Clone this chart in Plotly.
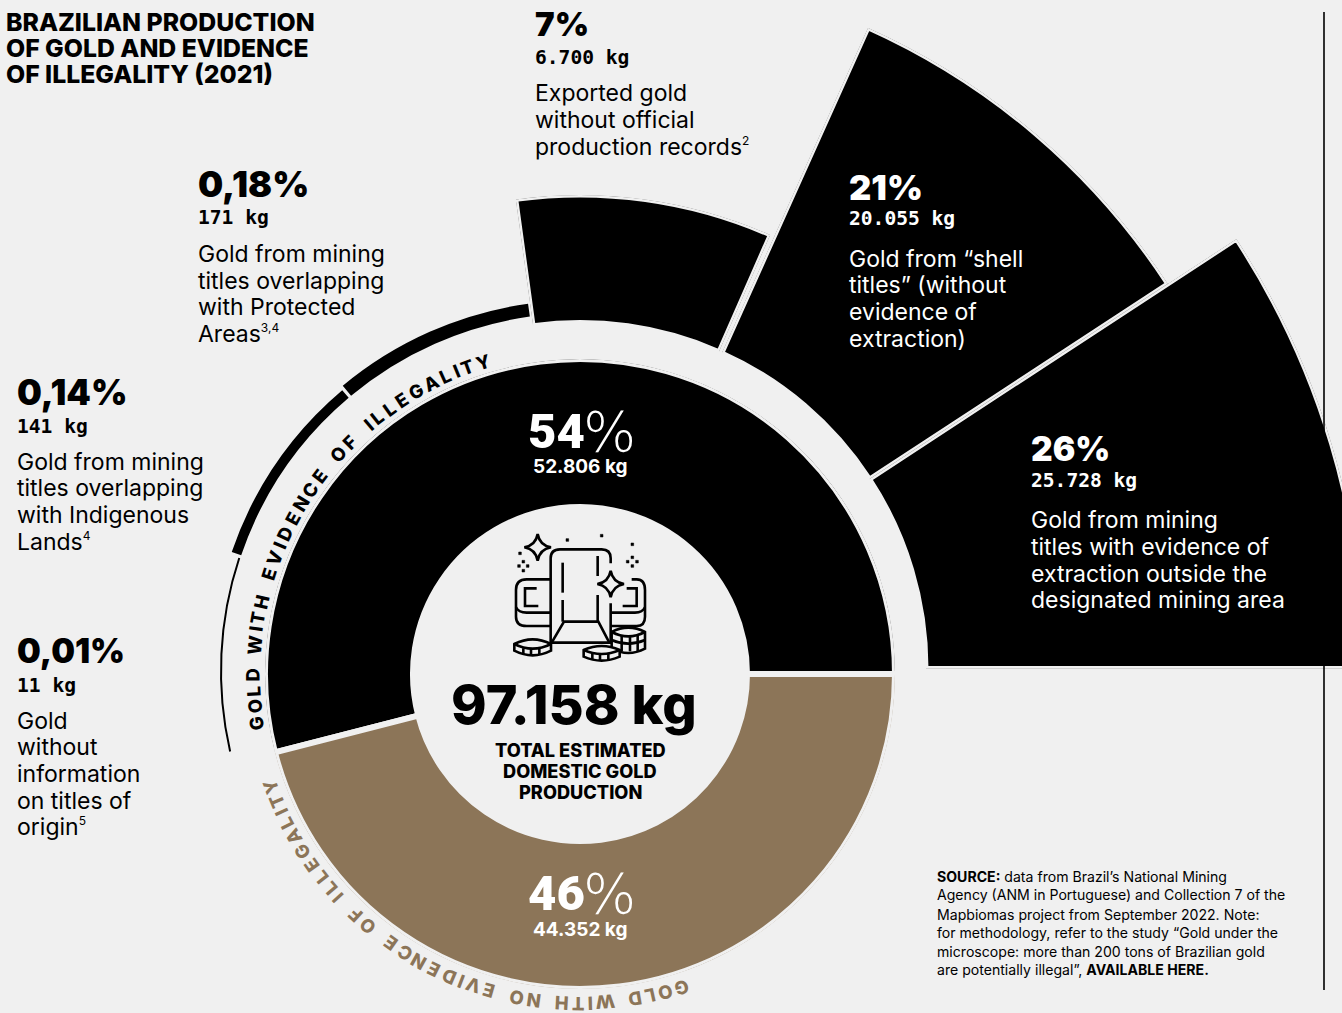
import math
import plotly.graph_objects as go

# ---------- data ----------
TOTAL_KG = 97158
SPLIT_KG = [52806, 44352]
SPLIT_PCT = [54, 46]
SPLIT_NAMES = ["Gold with evidence of illegality", "Gold with no evidence of illegality"]
CATEGORY_KG = [25728, 20055, 6700, 171, 141, 11]
CATEGORY_PCT = ["26%", "21%", "7%", "0,18%", "0,14%", "0,01%"]
CATEGORY_NAMES = ["Outside mining area", "Shell titles", "Exported without records",
                  "Protected Areas", "Indigenous Lands", "No titles information"]
# the size each category is drawn at (px of radius)
CATEGORY_OUTER_R = [784.5, 702.5, 473.5, 371, 368, 360]
# edges (from, to) of the three large slices and of the three thin arcs (degrees)
WEDGE_EDGES = [(0, 33.2), (33.2, 65.8), (66.3, 97.8)]
ARC_EDGES = [97.8, 130.0, 161.4, 193.2]

# ---------- style ----------
W, H = 1400, 1013
BG = "#f0f0f0"
BLACK = "#000000"
BROWN = "#8c7558"
BODY = "Inter"
HEAVY = "Inter"
MONO = "DejaVu Sans Mono"


def X(x):
    return x / W


def Y(y):
    return 1 - y / H


def bbox(sector):
    s0, s1 = sector
    a0 = s0 % 360
    a1 = a0 + (s1 - s0)
    ax0, ay0 = math.cos(math.radians(a0)), math.sin(math.radians(a0))
    ax1, ay1 = math.cos(math.radians(a1)), math.sin(math.radians(a1))
    if (a0 <= 90 <= a1) or (a0 > 90 and a1 >= 450):
        y1 = 1
    elif ay0 <= 0 and ay1 <= 0:
        y1 = 0
    else:
        y1 = max(ay0, ay1)
    if (a0 <= 180 <= a1) or (a0 > 180 and a1 >= 540):
        x0 = -1
    elif ax0 >= 0 and ax1 >= 0:
        x0 = 0
    else:
        x0 = min(ax0, ax1)
    if (a0 <= 270 <= a1) or (a0 > 270 and a1 >= 630):
        y0 = -1
    elif ay0 >= 0 and ay1 >= 0:
        y0 = 0
    else:
        y0 = min(ay0, ay1)
    if a1 >= 360:
        x1 = 1
    elif ax0 <= 0 and ax1 <= 0:
        x1 = 0
    else:
        x1 = max(ax0, ax1)
    return x0, y0, x1, y1


def polar_layout(cx, cy, R, sector):
    x0, y0, x1, y1 = bbox(sector)
    return dict(
        domain=dict(x=[X(cx + R * x0), X(cx + R * x1)], y=[Y(cy - R * y0), Y(cy - R * y1)]),
        sector=list(sector),
        bgcolor="rgba(0,0,0,0)",
        radialaxis=dict(visible=False, range=[0, R]),
        angularaxis=dict(visible=False, rotation=0, direction="counterclockwise"),
    )


fig = go.Figure()
layout_polars = {}
CX, CY = 580, 674

# inner donut: the two shares of total production, drawn from the values
shares = [v / sum(SPLIT_PCT) * 360 for v in SPLIT_PCT]
fig.add_trace(go.Barpolar(
    theta=[shares[0] / 2, shares[0] + shares[1] / 2], width=shares,
    r=[148, 148], base=[167, 167], subplot="polar", name="split", text=SPLIT_NAMES,
    marker=dict(color=[BLACK, BROWN], line=dict(color=BG, width=6)), hoverinfo="skip"))
layout_polars["polar"] = polar_layout(CX, CY, 315, (0, 360))

# categories
WCX, WCY = 580, 668.5
for i, (a, b) in enumerate(WEDGE_EDGES):
    name = f"polar{i + 2}"
    fig.add_trace(go.Barpolar(
        theta=[(a + b) / 2], width=[b - a], r=[CATEGORY_OUTER_R[i] - 346], base=[346],
        subplot=name, name=CATEGORY_NAMES[i],
        marker=dict(color=BLACK, line=dict(color=BG, width=5)), hoverinfo="skip"))
    layout_polars[name] = polar_layout(WCX, WCY, CATEGORY_OUTER_R[i], (a, b))

A = ARC_EDGES
fig.add_trace(go.Barpolar(
    theta=[(A[k] + A[k + 1]) / 2 for k in range(3)], width=[A[k + 1] - A[k] - 0.5 for k in range(3)],
    r=[CATEGORY_OUTER_R[k + 3] - 358 for k in range(3)], base=[358] * 3,
    subplot="polar5", name="small",
    marker=dict(color=BLACK, line=dict(width=0)), hoverinfo="skip"))
layout_polars["polar5"] = polar_layout(CX, 671, 375, (A[0], A[3]))

# ---------- text ----------
ann = []


def txt(x, y, s, size, color=BLACK, family=BODY, weight=400, anchor="left", angle=0):
    ann.append(dict(x=X(x), y=Y(y), xref="paper", yref="paper", text=s, showarrow=False,
                    xanchor=anchor, yanchor="middle", textangle=angle, borderpad=0, borderwidth=0,
                    font=dict(size=size, color=color, family=family, weight=weight)))


def block(x, ys, lines, size=23, color=BLACK, **kw):
    for y, s in zip(ys, lines):
        txt(x, y, s, size, color, **kw)


def sup(s):
    return f'<sup><span style="font-size:12px">{s}</span></sup>'


block(6, [22, 48, 74], ["BRAZILIAN PRODUCTION", "OF GOLD AND EVIDENCE", "OF ILLEGALITY (2021)"],
      size=24.8, weight=800)

PCT_SIZES = [33.5, 34.5, 33, 35.5, 35, 33.5]


def category(i, x, y_pct, y_kg, ys, lines, color=BLACK):
    txt(x, y_pct, CATEGORY_PCT[i], PCT_SIZES[i], color, family=HEAVY, weight=900)
    kg = f"{CATEGORY_KG[i]:,}".replace(",", ".") + " kg"
    txt(x, y_kg, kg, 19.6, color, family=MONO, weight=700)
    block(x, ys, lines, color=color)


category(2, 535, 24, 57, [93, 120, 147],
         ["Exported gold", "without official", "production records" + sup("2")])
category(3, 198, 184, 218, [254, 281, 307, 334],
         ["Gold from mining", "titles overlapping", "with Protected", "Areas" + sup("3,4")])
category(4, 17, 392, 426, [462, 488, 515, 542],
         ["Gold from mining", "titles overlapping", "with Indigenous", "Lands" + sup("4")])
category(5, 17, 651, 685, [721, 747, 774, 801, 827],
         ["Gold", "without", "information", "on titles of", "origin" + sup("5")])
category(1, 849, 188, 219, [259, 285, 312, 339],
         ["Gold from “shell", "titles” (without", "evidence of", "extraction)"], color="#ffffff")
category(0, 1031, 449, 480, [520, 547, 574, 600],
         ["Gold from mining", "titles with evidence of", "extraction outside the",
          "designated mining area"], color="#ffffff")

for i, (yp, yk) in enumerate([(431, 466), (893, 929)]):
    txt(528, yp, str(SPLIT_PCT[i]), 49, "#ffffff", family="Roboto", weight=900)
    txt(583, yp, "%", 56, "#ffffff", family="DejaVu Sans", weight=200)
    txt(580, yk, f"{SPLIT_KG[i]:,}".replace(",", ".") + " kg", 19, "#ffffff", weight=700, anchor="center")

txt(574, 704, f"{TOTAL_KG:,}".replace(",", ".") + " kg", 54, family=HEAVY, weight=800, anchor="center")
block(580, [750, 771, 792], ["TOTAL ESTIMATED", "DOMESTIC GOLD", "PRODUCTION"],
      size=18.2, weight=800, anchor="center")

block(937, [877, 895, 914, 933, 952, 970], [
    "<b>SOURCE:</b> data from Brazil’s National Mining",
    "Agency (ANM in Portuguese) and Collection 7 of the",
    "Mapbiomas project from September 2022. Note:",
    "for methodology, refer to the study “Gold under the",
    "microscope: more than 200 tons of Brazilian gold",
    "are potentially illegal”, <b>AVAILABLE HERE.</b>"], size=14.1)

# curved labels: one rotated character at a time
ADV = {" ": 0.7, "I": 0.55, "L": 0.85, "T": 0.9, "W": 1.25, "M": 1.25}


def curved(s, a_start, a_end, r, size, color, cy):
    adv = [ADV.get(c, 1.0) for c in s]
    pos, t = [], 0.0
    for k, a in enumerate(adv):
        pos.append(t + a / 2)
        t += a
    for c, p in zip(s, pos):
        a = a_start + (a_end - a_start) * (p - pos[0]) / (pos[-1] - pos[0])
        if c == " ":
            continue
        x = CX + r * math.cos(math.radians(a))
        y = cy - r * math.sin(math.radians(a))
        txt(x, y, c, size, color, family=HEAVY, weight=800, anchor="center", angle=90 - a)


curved("GOLD WITH EVIDENCE OF ILLEGALITY", 188.7, 107.3, 327, 18.5, BLACK, 674)
curved("GOLD WITH NO EVIDENCE OF ILLEGALITY", 288, 200, 329.5, 18.5, BROWN, 674)

# ---------- icon (drawn in the picture's pixel grid, 3x crop units) ----------
IX, IY = 490, 520


def ix(v):
    return X(IX + v / 3)


def iy(v):
    return Y(IY + v / 3)


def P(cmds):
    out = []
    for c in cmds:
        op, pts = c[0], c[1:]
        out.append(op + " ".join(f"{ix(pts[j]):.5f},{iy(pts[j + 1]):.5f}" for j in range(0, len(pts), 2)))
    return " ".join(out)


shapes = [dict(type="line", xref="paper", yref="paper", x0=X(1324), x1=X(1324), y0=Y(12), y1=Y(990),
               line=dict(color=BLACK, width=1.6), layer="above")]


def stroke(cmds, fill=None, w=2.6):
    shapes.append(dict(type="path", xref="paper", yref="paper", path=P(cmds),
                       line=dict(color=BLACK, width=w), fillcolor=fill or "rgba(0,0,0,0)"))


def star(cx, cy, r):
    stroke([("M", cx, cy - r), ("Q", cx + 6, cy - 6, cx + r, cy), ("Q", cx + 6, cy + 6, cx, cy + r),
            ("Q", cx - 6, cy + 6, cx - r, cy), ("Q", cx - 6, cy - 6, cx, cy - r), ("Z",)], fill=BG)


def dot(cx, cy, r=5):
    stroke([("M", cx - r, cy - r), ("L", cx + r, cy - r), ("L", cx + r, cy + r), ("L", cx - r, cy + r), ("Z",)],
           fill=BLACK, w=0.5)


def coin(cx, y, rx, ry, h, ribs):
    stroke([("M", cx - rx, y), ("L", cx - rx, y + h), ("Q", cx, y + h + 2 * ry, cx + rx, y + h),
            ("L", cx + rx, y), ("Q", cx, y - 2 * ry, cx - rx, y), ("Z",)], fill=BG)
    stroke([("M", cx - rx, y), ("Q", cx, y + 2 * ry, cx + rx, y)])
    for d in ribs:
        stroke([("M", cx + d, y + ry * 0.9), ("L", cx + d, y + ry + h * 0.9)])


# ingots behind the bar
stroke([("M", 182, 178), ("L", 110, 178), ("Q", 78, 178, 78, 210), ("L", 78, 290),
        ("Q", 78, 318, 110, 318), ("L", 182, 318)])
stroke([("M", 78, 262), ("Q", 85, 278, 110, 278), ("L", 182, 278)])
stroke([("M", 140, 205), ("L", 105, 205), ("L", 105, 258), ("L", 145, 258)])
stroke([("M", 425, 178), ("L", 440, 178), ("Q", 465, 178, 465, 210), ("L", 465, 290),
        ("Q", 465, 318, 440, 318), ("L", 362, 318)])
stroke([("M", 465, 262), ("Q", 458, 278, 435, 278), ("L", 362, 278)])
stroke([("M", 410, 205), ("L", 440, 205), ("L", 440, 258), ("L", 398, 258)])
# bar
stroke([("M", 362, 130), ("L", 362, 115), ("Q", 362, 88, 335, 88), ("L", 210, 88), ("Q", 182, 88, 182, 115),
        ("L", 182, 368), ("L", 362, 368), ("L", 362, 250)])
stroke([("M", 185, 368), ("L", 222, 305), ("L", 325, 305), ("L", 358, 368)])
stroke([("M", 218, 128), ("L", 218, 218)])
stroke([("M", 218, 240), ("L", 218, 305)])
stroke([("M", 323, 108), ("L", 323, 168)])
stroke([("M", 323, 225), ("L", 323, 305)])
# coins
coin(415, 336, 50, 13, 50, [-20, 5, 28])
stroke([("M", 365, 360), ("Q", 415, 382, 465, 360)])
coin(128, 372, 55, 14, 20, [-28, -5, 20])
coin(335, 390, 54, 12, 20, [-28, -5, 20])
# sparkles and dots
star(143, 82, 40)
star(362, 192, 40)
for dx, dy in [(232, 60), (335, 47), (427, 73), (90, 100), (100, 125), (100, 152), (87, 138), (113, 138),
               (427, 112), (427, 138), (413, 125), (441, 125)]:
    dot(dx, dy, 4)

fig.update_layout(
    width=W, height=H, autosize=False, margin=dict(l=0, r=0, t=0, b=0, pad=0),
    paper_bgcolor=BG, plot_bgcolor=BG, showlegend=False,
    annotations=ann, shapes=shapes, **layout_polars)

fig.write_html("out.html", config={"displayModeBar": False},
               post_script="document.body.style.margin='0';document.body.style.background='%s';"
                           "document.documentElement.style.overflow='hidden';document.body.style.overflow='hidden';" % BG)
